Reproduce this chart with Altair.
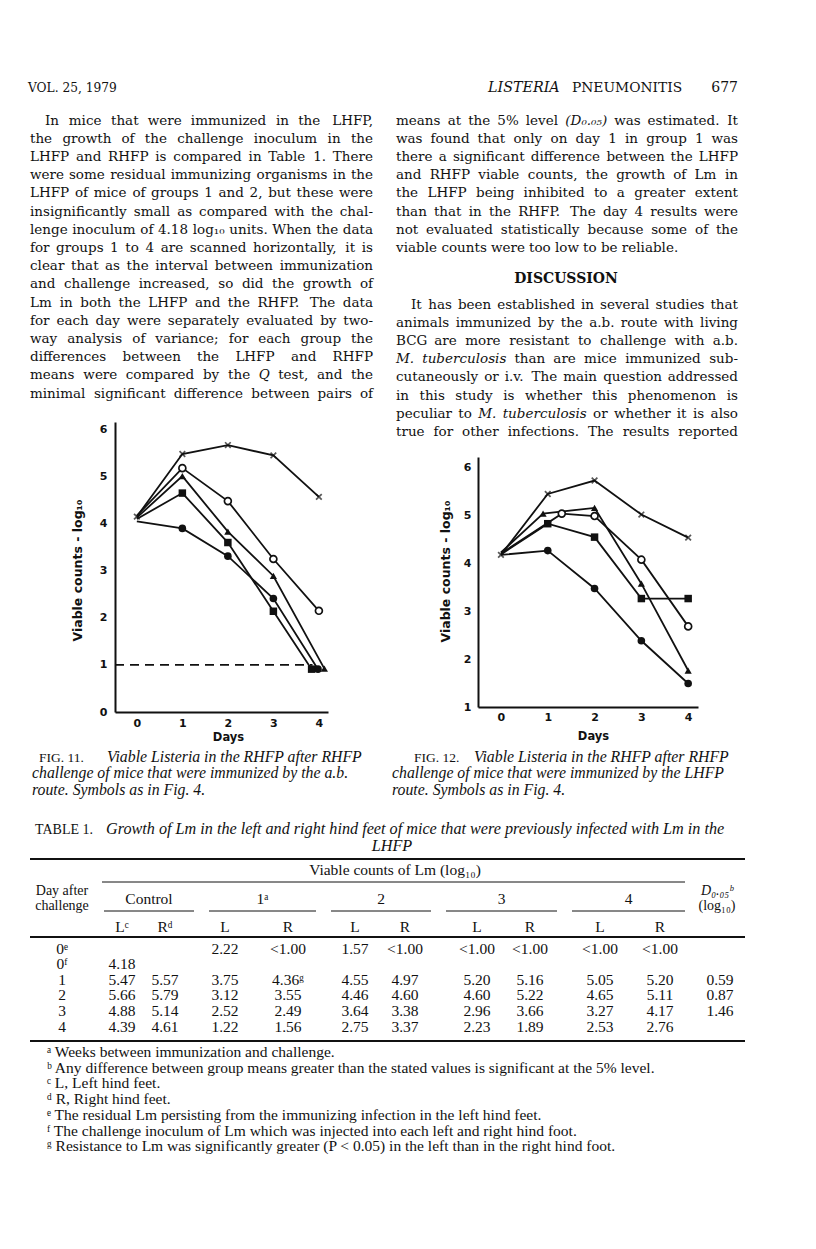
import altair as alt
import pandas as pd

M = 8  # page margin (px)


def px(v):
    return v - M


# ---------------- Figure 11 data (log10 viable counts) ----------------
F11_CROSS_DAY = [0, 1, 2, 3, 4]
F11_CROSS_VAL = [4.15, 5.48, 5.67, 5.45, 4.57]
F11_OPEN_DAY = [0, 1, 2, 3, 4]
F11_OPEN_VAL = [4.17, 5.18, 4.48, 3.25, 2.15]
F11_TRI_DAY = [0, 1, 2, 3, 4.12]
F11_TRI_VAL = [4.13, 5.01, 3.83, 2.89, 0.92]
F11_SQ_DAY = [0, 1, 2, 3, 3.84]
F11_SQ_VAL = [4.10, 4.65, 3.60, 2.14, 0.91]
F11_FC_DAY = [0, 1, 2, 3, 3.98]
F11_FC_VAL = [4.05, 3.90, 3.31, 2.41, 0.91]
F11_LIMIT_DAY = [-0.48, 3.86]
F11_LIMIT_VAL = 1.0

# ---------------- Figure 12 data ----------------
F12_CROSS_DAY = [0, 1, 2, 3, 4]
F12_CROSS_VAL = [4.17, 5.44, 5.72, 5.01, 4.53]
F12_OPEN_DAY = [0, 1.3, 2, 3, 4]
F12_OPEN_VAL = [4.20, 5.03, 4.98, 4.07, 2.68]
F12_TRI_DAY = [0, 0.9, 2, 3, 4]
F12_TRI_VAL = [4.22, 5.03, 5.15, 3.57, 1.76]
F12_SQ_DAY = [0, 1, 2, 3, 4]
F12_SQ_VAL = [4.18, 4.82, 4.54, 3.26, 3.26]
F12_FC_DAY = [0, 1, 2, 3, 4]
F12_FC_VAL = [4.17, 4.26, 3.47, 2.38, 1.49]

X_TICKS = [0, 1, 2, 3, 4]
F11_Y_TICKS = [0, 1, 2, 3, 4, 5, 6]
F12_Y_TICKS = [1, 2, 3, 4, 5, 6]

# ---------------- Table 1 ----------------
TABLE_ROWS = ["0ᵉ", "0ᶠ", "1", "2", "3", "4"]
CTRL_L = ["", "4.18", "5.47", "5.66", "4.88", "4.39"]
CTRL_R = ["", "", "5.57", "5.79", "5.14", "4.61"]
G1_L = ["2.22", "", "3.75", "3.12", "2.52", "1.22"]
G1_R = ["<1.00", "", "4.36ᵍ", "3.55", "2.49", "1.56"]
G2_L = ["1.57", "", "4.55", "4.46", "3.64", "2.75"]
G2_R = ["<1.00", "", "4.97", "4.60", "3.38", "3.37"]
G3_L = ["<1.00", "", "5.20", "4.60", "2.96", "2.23"]
G3_R = ["<1.00", "", "5.16", "5.22", "3.66", "1.89"]
G4_L = ["<1.00", "", "5.05", "4.65", "3.27", "2.53"]
G4_R = ["<1.00", "", "5.20", "5.11", "4.17", "2.76"]
D005 = ["", "", "0.59", "0.87", "1.46", ""]
LR_HEAD = ["", "Lᶜ", "Rᵈ", "L", "R", "L", "R", "L", "R", "L", "R", ""]
GROUPS = ["Control", "1ᵃ", "2", "3", "4"]

# ---------------- Page text (*word* = italic) ----------------
LEFT_COL = [
    "In mice that were immunized in the LHFP,",
    "the growth of the challenge inoculum in the",
    "LHFP and RHFP is compared in Table 1. There",
    "were some residual immunizing organisms in the",
    "LHFP of mice of groups 1 and 2, but these were",
    "insignificantly small as compared with the chal-",
    "lenge inoculum of 4.18 log₁₀ units. When the data",
    "for groups 1 to 4 are scanned horizontally, it is",
    "clear that as the interval between immunization",
    "and challenge increased, so did the growth of",
    "Lm in both the LHFP and the RHFP. The data",
    "for each day were separately evaluated by two-",
    "way analysis of variance; for each group the",
    "differences between the LHFP and RHFP",
    "means were compared by the *Q* test, and the",
    "minimal significant difference between pairs of",
]
RIGHT_COL_1 = [
    "means at the 5% level *(D₀.₀₅)* was estimated. It",
    "was found that only on day 1 in group 1 was",
    "there a significant difference between the LHFP",
    "and RHFP viable counts, the growth of Lm in",
    "the LHFP being inhibited to a greater extent",
    "than that in the RHFP. The day 4 results were",
    "not evaluated statistically because some of the",
    "viable counts were too low to be reliable.",
]
RIGHT_COL_2 = [
    "It has been established in several studies that",
    "animals immunized by the a.b. route with living",
    "BCG are more resistant to challenge with a.b.",
    "*M.* *tuberculosis* than are mice immunized sub-",
    "cutaneously or i.v. The main question addressed",
    "in this study is whether this phenomenon is",
    "peculiar to *M.* *tuberculosis* or whether it is also",
    "true for other infections. The results reported",
]
CAP11 = ["Viable Listeria in the RHFP after RHFP",
         "challenge of mice that were immunized by the a.b.",
         "route. Symbols as in Fig. 4."]
CAP12 = ["Viable Listeria in the RHFP after RHFP",
         "challenge of mice that were immunized by the LHFP",
         "route. Symbols as in Fig. 4."]
FOOTNOTES = [
    "ᵃ Weeks between immunization and challenge.",
    "ᵇ Any difference between group means greater than the stated values is significant at the 5% level.",
    "ᶜ L, Left hind feet.",
    "ᵈ R, Right hind feet.",
    "ᵉ The residual Lm persisting from the immunizing infection in the left hind feet.",
    "ᶠ The challenge inoculum of Lm which was injected into each left and right hind foot.",
    "ᵍ Resistance to Lm was significantly greater (P < 0.05) in the left than in the right hind foot.",
]

ONE = pd.DataFrame({"k": [0]})
INK = "#111111"

# approximate DejaVu Serif advance widths (1/2048 em) used to justify the body text
_W = {" ": 651, ".": 651, ",": 651, ";": 690, "-": 692, "(": 799, ")": 799, "%": 1948,
      "₀": 820, "₁": 820, "₅": 820}
_W.update(dict(zip("abcdefghijklmnopqrstuvwxyz",
                   [1221, 1305, 1149, 1305, 1212, 739, 1305, 1309, 659, 635, 1249, 659, 1976,
                    1309, 1233, 1305, 1305, 979, 1049, 823, 1309, 1184, 1718, 1198, 1184, 1094])))
_W.update(dict(zip("ABCDEFGHIJKLMNOPQRSTUVWXYZ",
                   [1475, 1464, 1464, 1642, 1464, 1386, 1589, 1784, 892, 892, 1556, 1386, 2079,
                    1741, 1612, 1394, 1612, 1556, 1325, 1372, 1689, 1475, 2109, 1475, 1372, 1372])))
_W.update({d: 1303 for d in "0123456789"})
BODY = 13.5


def tw(s, size=BODY):
    return sum(_W.get(ch, 1200) for ch in s) / 2048.0 * size


def justify(lines, left, right, y0, lh, indent=0, last_free=False):
    rows = []
    for i, line in enumerate(lines):
        words = line.split(" ")
        x0 = left + (indent if i == 0 else 0)
        free = last_free and i == len(lines) - 1
        ws = [tw(w.strip("*")) for w in words]
        gap = tw(" ") if free or len(words) == 1 else (right - x0 - sum(ws)) / (len(words) - 1)
        x = x0
        for j, (w, wd) in enumerate(zip(words, ws)):
            last = (j == len(words) - 1) and not free
            rows.append({"t": w.strip("*"), "x": px(right) if last else px(x), "y": px(y0 + i * lh),
                         "it": w.startswith("*"), "r": last})
            x += wd + gap
    return rows


def text(s, x, y, size=13.5, font="DejaVu Serif", style="normal", weight="normal",
         align="left", lh=18.25):
    return alt.Chart(ONE).mark_text(
        text=s, lineBreak="\n", lineHeight=lh, font=font, fontSize=size,
        fontStyle=style, fontWeight=weight, align=align, baseline="alphabetic",
        color=INK,
    ).encode(x=alt.value(px(x)), y=alt.value(px(y)))


def rule(x1, x2, y, w=1.0):
    return alt.Chart(ONE).mark_rule(color=INK, strokeWidth=w).encode(
        x=alt.value(px(x1)), x2=alt.value(px(x2)), y=alt.value(px(y)))


def series_frame(spec):
    rows = []
    for name, days, vals in spec:
        for i, (d, v) in enumerate(zip(days, vals)):
            rows.append({"series": name, "day": d, "value": v, "idx": i})
    return pd.DataFrame(rows)


MARKERS = {
    "cross": dict(shape="M-1,-1L1,1M1,-1L-1,1", filled=False, color=INK, strokeWidth=1.7, size=32),
    "open": dict(shape="circle", filled=True, fill="white", stroke=INK, strokeWidth=1.7, size=48, opacity=1),
    "triangle": dict(shape="triangle-up", filled=True, color=INK, size=52, opacity=1),
    "square": dict(shape="square", filled=True, color=INK, size=56, opacity=1),
    "filled": dict(shape="circle", filled=True, color=INK, size=58, opacity=1),
}


def figure(df, xdom, xr, ydom, yr, yticks, xlab_pad, xtitle_pad, ylab_pad, ytitle_pad,
           title_x, title_y, limit=None):
    xaxis = alt.Axis(orient="bottom", offset=yr[0] - 1233, values=X_TICKS, format="d",
                     ticks=False, grid=False, domainColor=INK, domainWidth=2,
                     labelFont="DejaVu Sans", labelFontWeight="bold", labelFontSize=11,
                     labelColor=INK, labelPadding=xlab_pad, labelFlush=False,
                     title="Days", titleFont="DejaVu Sans", titleFontWeight="bold",
                     titleFontSize=11.5, titleColor=INK, titlePadding=xtitle_pad,
                     titleX=title_x)
    yaxis = alt.Axis(orient="left", offset=-xr[0], values=yticks, format="d",
                     ticks=False, grid=False, domainColor=INK, domainWidth=2,
                     labelFont="DejaVu Sans", labelFontWeight="bold", labelFontSize=11,
                     labelColor=INK, labelPadding=ylab_pad, labelFlush=False,
                     title="Viable  counts - log₁₀", titleFont="DejaVu Sans",
                     titleFontWeight="bold", titleFontSize=12.5, titleColor=INK,
                     titlePadding=ytitle_pad, titleY=title_y)
    x = alt.X("day:Q", scale=alt.Scale(domain=xdom, range=xr, nice=False, zero=False), axis=xaxis)
    y = alt.Y("value:Q", scale=alt.Scale(domain=ydom, range=yr, nice=False, zero=False), axis=yaxis)
    base = alt.Chart(df)
    layers = [base.mark_line(color=INK, strokeWidth=1.8).encode(x=x, y=y, detail="series:N")]
    if limit is not None:
        ld = pd.DataFrame({"day": [limit[0][0]], "day2": [limit[0][1]], "value": [limit[1]]})
        layers.append(alt.Chart(ld).mark_rule(color=INK, strokeWidth=1.6, strokeDash=[9, 6]).encode(
            x=x, x2="day2:Q", y=y))
    for name, props in MARKERS.items():
        cond = f"datum.series == '{name}'" if name == "cross" else f"datum.series == '{name}' && datum.idx > 0"
        layers.append(base.transform_filter(cond).mark_point(**props).encode(x=x, y=y))
    return alt.layer(*layers)


f11 = series_frame([
    ("cross", F11_CROSS_DAY, F11_CROSS_VAL), ("open", F11_OPEN_DAY, F11_OPEN_VAL),
    ("triangle", F11_TRI_DAY, F11_TRI_VAL), ("square", F11_SQ_DAY, F11_SQ_VAL),
    ("filled", F11_FC_DAY, F11_FC_VAL)])
f12 = series_frame([
    ("cross", F12_CROSS_DAY, F12_CROSS_VAL), ("open", F12_OPEN_DAY, F12_OPEN_VAL),
    ("triangle", F12_TRI_DAY, F12_TRI_VAL), ("square", F12_SQ_DAY, F12_SQ_VAL),
    ("filled", F12_FC_DAY, F12_FC_VAL)])

fig11 = figure(f11, [-0.48, 4.2], [px(115), px(328)], [0, 6.16], [px(712), px(422)],
               F11_Y_TICKS, 5, 3, 8, 15, px(228), px(570), limit=(F11_LIMIT_DAY, F11_LIMIT_VAL))
fig12 = figure(f12, [-0.49, 4.21], [px(478), px(698)], [1, 6.21], [px(707), px(457)],
               F12_Y_TICKS, 4, 8, 7, 11, px(593), px(571))

# ---------------- table cells ----------------
COLS = [TABLE_ROWS, CTRL_L, CTRL_R, G1_L, G1_R, G2_L, G2_R, G3_L, G3_R, G4_L, G4_R, D005]
COLX = [62, 122, 165, 225, 288, 355, 405, 477, 530, 600, 660, 720]
TFONT = 15.5
HFONT = 14
cells = []
for c, col in enumerate(COLS):
    for r, t in enumerate(col):
        if t:
            cells.append({"r": r, "c": c, "t": t})
cells = pd.DataFrame(cells)
tx = alt.X("c:Q", scale=alt.Scale(domain=list(range(12)), range=[px(v) for v in COLX],
                                  nice=False, zero=False), axis=None)
table_cells = alt.Chart(cells).mark_text(
    font="Liberation Serif", fontSize=TFONT, color=INK, baseline="alphabetic", align="center"
).encode(
    x=tx,
    y=alt.Y("r:Q", scale=alt.Scale(domain=[0, 5], range=[px(953.5), px(1031.5)], nice=False, zero=False), axis=None),
    text="t:N",
)
lr = pd.DataFrame({"c": list(range(12)), "t": LR_HEAD})
table_lr = alt.Chart(lr).transform_filter("datum.t != ''").mark_text(
    font="Liberation Serif", fontSize=TFONT, color=INK, baseline="alphabetic", align="center"
).encode(x=tx, y=alt.value(px(932)), text="t:N")
table = alt.layer(table_cells, table_lr)

# ---------------- justified body text ----------------
LH = 18.2
body_rows = []
body_rows += justify(LEFT_COL, 30, 373, 124.5, LH, indent=15)
body_rows += justify(RIGHT_COL_1, 396, 738, 124.5, LH, last_free=True)
body_rows += justify(RIGHT_COL_2, 396, 738, 308.5, LH, indent=15)
body = pd.DataFrame(body_rows)
body_layers = []
for it in (False, True):
    for r in (False, True):
        body_layers.append(
            alt.Chart(body).transform_filter(
                f"datum.it == {str(it).lower()} && datum.r == {str(r).lower()}"
            ).mark_text(font="DejaVu Serif", fontSize=BODY, color=INK, baseline="alphabetic",
                        align="right" if r else "left",
                        fontStyle="italic" if it else "normal").encode(
                x=alt.X("x:Q", scale=None, axis=None),
                y=alt.Y("y:Q", scale=None, axis=None),
                text="t:N")
        )

# ---------------- page layout ----------------
layers = []
layers.append(text("VOL. 25, 1979", 28, 92, size=12.2))
layers.append(text("LISTERIA", 488, 92, size=14.3, style="italic"))
layers.append(text("PNEUMONITIS", 572, 92, size=13.8))
layers.append(text("677", 738, 92, size=14, align="right"))
layers += body_layers
layers.append(text("DISCUSSION", 566, 283, size=14, weight="bold", align="center"))
layers.append(fig11)
layers.append(fig12)
# captions
CAPSIZE = 15.8
CAPLH = 16.8
layers.append(text("FIG. 11.", 39, 761.5, size=13.5, font="Liberation Serif"))
layers.append(text(CAP11[0], 107, 761.5, size=CAPSIZE, font="Liberation Serif", style="italic"))
layers.append(text("\n".join(CAP11[1:]), 32, 761.5 + CAPLH, size=CAPSIZE, font="Liberation Serif", style="italic", lh=CAPLH))
layers.append(text("FIG. 12.", 414, 761.5, size=13.5, font="Liberation Serif"))
layers.append(text(CAP12[0], 474, 761.5, size=CAPSIZE, font="Liberation Serif", style="italic"))
layers.append(text("\n".join(CAP12[1:]), 392, 761.5 + CAPLH, size=CAPSIZE, font="Liberation Serif", style="italic", lh=CAPLH))
# table title
layers.append(text("TABLE 1.", 35, 834, size=14, font="Liberation Serif"))
layers.append(text("Growth of Lm in the left and right hind feet of mice that were previously infected with Lm in the",
                   106, 834, size=16.2, font="Liberation Serif", style="italic"))
layers.append(text("LHFP", 392, 851, size=16.2, font="Liberation Serif", style="italic", align="center"))
# table rules and headings
layers.append(rule(30, 745, 859, 2))
layers.append(text("Viable counts of Lm (log₁₀)", 395, 875, size=TFONT, font="Liberation Serif", align="center"))
layers.append(rule(102, 685, 882, 1))
layers.append(text("Day after", 62, 895, size=HFONT, font="Liberation Serif", align="center"))
layers.append(text("challenge", 62, 910, size=HFONT, font="Liberation Serif", align="center"))
GROUP_SPANS = [(104, 194), (209, 316), (331, 431), (446, 557), (572, 685)]
for g, (a, b) in zip(GROUPS, GROUP_SPANS):
    layers.append(text(g, (a + b) / 2, 904, size=TFONT, font="Liberation Serif", align="center"))
    layers.append(rule(a, b, 911, 1))
layers.append(text("D₀.₀₅ᵇ", 717, 895, size=HFONT, font="Liberation Serif", style="italic", align="center"))
layers.append(text("(log₁₀)", 717, 910, size=HFONT, font="Liberation Serif", align="center"))
layers.append(rule(30, 745, 937, 2))
layers.append(table)
layers.append(rule(30, 745, 1041, 2))
layers.append(text("\n".join(FOOTNOTES), 47, 1057, size=15.5, font="Liberation Serif", lh=15.7))

chart = alt.layer(*layers).resolve_scale(x="independent", y="independent").properties(
    width=800, height=1233, padding=0, background="white",
    autosize=alt.AutoSizeParams(type="none"),
).configure_view(stroke=None)

chart.save("out.html", embed_options={"renderer": "svg", "actions": False})
